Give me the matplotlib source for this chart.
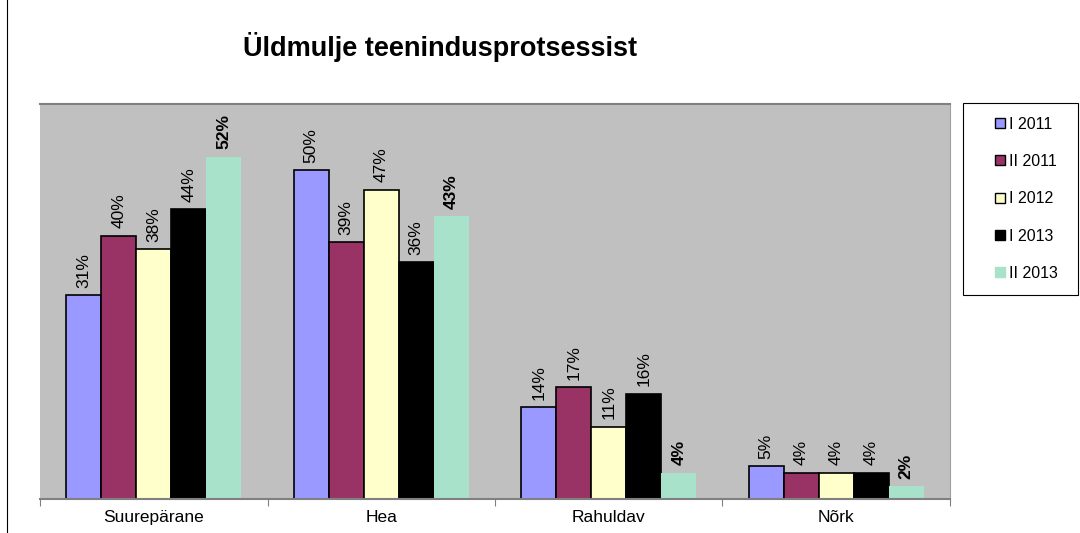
import matplotlib.pyplot as plt
import numpy as np
from matplotlib.lines import Line2D

categories = ["Suurepärane", "Hea", "Rahuldav", "Nõrk"]
series = ["I 2011", "II 2011", "I 2012", "I 2013", "II 2013"]
values = [
    [31, 50, 14, 5],
    [40, 39, 17, 4],
    [38, 47, 11, 4],
    [44, 36, 16, 4],
    [52, 43, 4, 2],
]
colors = ["#9999FF", "#993366", "#FFFFCC", "#000000", "#A8E2CA"]

plt.rcParams['font.family'] = ['Liberation Sans', 'DejaVu Sans']

fig = plt.figure(figsize=(10.8, 5.33), dpi=100)
ax = fig.add_axes([40/1080, 1-499/533, 910/1080, 395/533])
ax.set_facecolor("#C0C0C0")

x = np.arange(len(categories))
w = 0.154
for i, (name, vals) in enumerate(zip(series, values)):
    pos = x + (i - 2) * w
    last = i == len(series) - 1
    ax.bar(pos, vals, w, color=colors[i], label=name,
           edgecolor="none" if last else "black", linewidth=1.2)
    for p, v in zip(pos, vals):
        ax.text(p, v + 1.1, f"{v}%", rotation=90, ha="center", va="bottom",
                fontsize=12.5, fontweight="bold" if last else "normal")

ax.set_xlim(-0.5, 3.5)
ax.set_ylim(0, 60)
ax.set_yticks([])
ax.set_xticks(np.arange(-0.5, 4, 1), minor=False)
ax.set_xticklabels([])
ax.set_xticks(x, minor=True)
ax.set_xticklabels(categories, minor=True, fontsize=12.5)
ax.tick_params(axis="x", which="major", length=5, color="#808080", direction="out")
ax.tick_params(axis="x", which="minor", length=0, pad=8)
ax.spines["left"].set_visible(False)
for s in ["top", "bottom"]:
    ax.spines[s].set_color("#808080")
    ax.spines[s].set_linewidth(1.5)
ax.spines["right"].set_color("#A0A0A0")

fig.text(440/1080, 1-47/533, "Üldmulje teenindusprotsessist", ha="center", va="center",
         fontsize=19.5, fontweight="bold")

# legend handles: small squares, last one without border
handles = [Line2D([], [], linestyle="none", marker="s", markersize=7,
                  markerfacecolor=c, markeredgecolor="black" if i < 4 else c,
                  markeredgewidth=1.0)
           for i, c in enumerate(colors)]
leg = fig.legend(handles, series, loc="upper left",
                 bbox_to_anchor=(963/1080, 1-294/533, 115/1080, 191/533),
                 mode="expand", fontsize=11.5, handlelength=2.9,
                 handletextpad=-0.85, labelspacing=1.4, borderpad=0.85, fancybox=False,
                 edgecolor="black", framealpha=1, borderaxespad=0)
leg.get_frame().set_linewidth(0.8)

fig.add_artist(Line2D([7/1080, 7/1080], [0, 1], color="black", linewidth=0.8))

fig.savefig("out.png", dpi=100)
